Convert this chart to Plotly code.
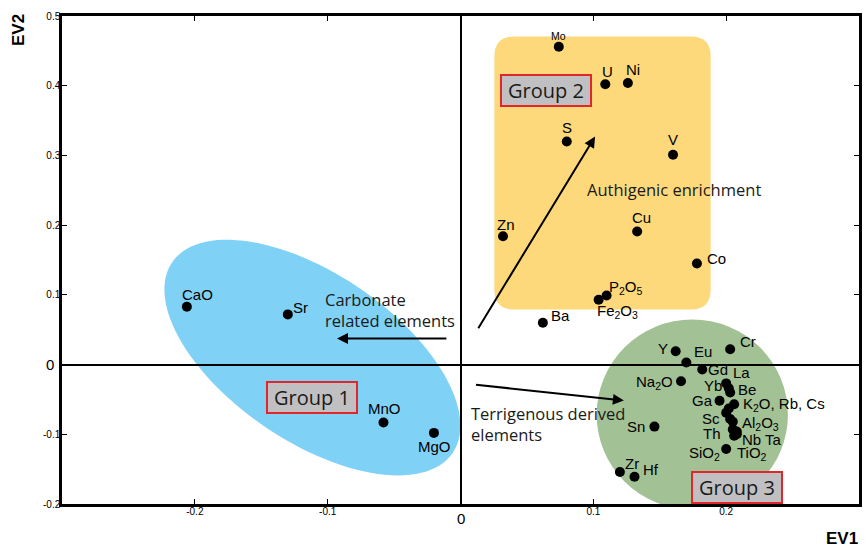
import numpy as np
import plotly.graph_objects as go

# ---------------- data ----------------
elements = ["Mo", "U", "Ni", "S", "V", "Zn", "Cu", "Co", "P2O5", "Fe2O3", "Ba",
            "CaO", "Sr", "MnO", "MgO",
            "Y", "Eu", "Cr", "Gd", "La", "Yb", "Be", "Na2O", "Ga", "K2O", "Rb", "Cs",
            "Sc", "Al2O3", "Th", "Nb", "Ta", "TiO2", "SiO2", "Sn", "Zr", "Hf"]
ev1 = [0.074, 0.109, 0.126, 0.080, 0.160, 0.032, 0.133, 0.178, 0.110, 0.104, 0.062,
       -0.206, -0.130, -0.058, -0.020,
       0.162, 0.170, 0.203, 0.182, 0.200, 0.202, 0.203, 0.166, 0.195, 0.206, 0.202, 0.200,
       0.203, 0.205, 0.205, 0.208, 0.206, 0.208, 0.200, 0.146, 0.120, 0.131]
ev2 = [0.456, 0.402, 0.404, 0.320, 0.301, 0.184, 0.191, 0.145, 0.099, 0.093, 0.060,
       0.083, 0.072, -0.083, -0.098,
       0.019, 0.003, 0.022, -0.007, -0.027, -0.034, -0.040, -0.024, -0.052, -0.057, -0.063, -0.069,
       -0.078, -0.082, -0.093, -0.096, -0.102, -0.100, -0.121, -0.089, -0.154, -0.161]
label_text = {
    "P2O5": "P<sub>2</sub>O<sub>5</sub>", "Fe2O3": "Fe<sub>2</sub>O<sub>3</sub>",
    "Na2O": "Na<sub>2</sub>O", "K2O": "K<sub>2</sub>O, Rb, Cs", "Rb": "", "Cs": "",
    "Al2O3": "Al<sub>2</sub>O<sub>3</sub>", "Nb": "Nb Ta", "Ta": "",
    "TiO2": "TiO<sub>2</sub>", "SiO2": "SiO<sub>2</sub>",
}
x_ticks = [-0.2, -0.1, 0.1, 0.2, 0.3]
y_ticks = [-0.2, -0.1, 0.1, 0.2, 0.3, 0.4, 0.5]
group_names = ["Group 1", "Group 2", "Group 3"]

# ---------------- label placement (pixels: dx, dy-up, anchor) ----------------
label_pos = {
    "Mo": (0, 11, "center"), "U": (2, 13, "center"), "Ni": (5, 13, "center"),
    "S": (0, 14, "center"), "V": (0, 15, "center"), "Zn": (3, 12, "center"),
    "Cu": (4, 14, "center"), "Co": (8, 5, "left"), "P2O5": (0, 8, "left"),
    "Fe2O3": (19, -12, "center"), "Ba": (6, 7, "left"), "CaO": (11, 12, "center"),
    "Sr": (3, 7, "left"), "MnO": (1, 14, "center"), "MgO": (1, -14, "center"),
    "Y": (-6, 3, "right"), "Eu": (6, 11, "left"), "Cr": (8, 8, "left"),
    "Gd": (4, 0, "left"), "La": (5, 11, "left"), "Yb": (-5, 3, "right"),
    "Be": (6, 3, "left"), "Na2O": (-6, -1, "right"), "Ga": (-5, 0, "right"),
    "K2O": (7, 0, "left"), "Sc": (-8, 0, "right"), "Al2O3": (7, -2, "left"),
    "Th": (-10, -4, "right"), "Nb": (3, -8, "left"), "TiO2": (-2, -19, "left"),
    "SiO2": (-4, -5, "right"), "Sn": (-7, 0, "right"), "Zr": (3, 8, "left"),
    "Hf": (6, 7, "left"),
}

X0, X1, Y0, Y1 = -0.3, 0.3, -0.2, 0.5
L, R, T, B = 62, 4, 16, 43
W, H = 866, 547
sx = (X1 - X0) / (W - L - R)
sy = (Y1 - Y0) / (H - T - B)

fig = go.Figure()

# ---------------- group shapes ----------------
cx, cy, a, b, phi = -0.1115, 0.010, 170, 84, np.deg2rad(34)
t = np.linspace(0, 2 * np.pi, 120)
ex = cx + sx * (a * np.cos(t) * np.cos(phi) - b * np.sin(t) * np.sin(phi))
ey = cy - sy * (a * np.cos(t) * np.sin(phi) + b * np.sin(t) * np.cos(phi))
path = "M " + " L ".join(f"{x:.5f},{y:.5f}" for x, y in zip(ex, ey)) + " Z"
fig.add_shape(type="path", path=path, fillcolor="#7fd1f6", line_width=0, layer="below")

rx0, rx1, ry0, ry1 = 0.0255, 0.1883, 0.079, 0.4705
crx, cry = 20 * sx, 20 * sy
rpath = (f"M {rx0+crx},{ry0} L {rx1-crx},{ry0} Q {rx1},{ry0} {rx1},{ry0+cry} "
         f"L {rx1},{ry1-cry} Q {rx1},{ry1} {rx1-crx},{ry1} L {rx0+crx},{ry1} "
         f"Q {rx0},{ry1} {rx0},{ry1-cry} L {rx0},{ry0+cry} Q {rx0},{ry0} {rx0+crx},{ry0} Z")
fig.add_shape(type="path", path=rpath, fillcolor="#fed97b", line_width=0, layer="below")

fig.add_shape(type="circle", x0=0.1025, x1=0.2465, y0=-0.208, y1=0.0646,
              fillcolor="#a2c194", line_width=0, layer="below")

# ---------------- points ----------------
fig.add_trace(go.Scatter(x=ev1, y=ev2, mode="markers",
                         marker=dict(color="black", size=10), hoverinfo="text",
                         text=elements, showlegend=False))

annotations = []
for name, x, y in zip(elements, ev1, ev2):
    txt = label_text.get(name, name)
    if not txt:
        continue
    dx, dy, anc = label_pos[name]
    annotations.append(dict(x=x, y=y, text=txt, showarrow=False, xshift=dx, yshift=dy,
                            xanchor=anc, yanchor="middle",
                            font=dict(family="Liberation Sans", size=10.5 if name == "Mo" else 15,
                                      color="black")))

group_xy = [(-0.1118, -0.047), (0.0645, 0.393), (0.2085, -0.177)]
for g, (gx, gy) in zip(group_names, group_xy):
    annotations.append(dict(x=gx, y=gy, text=g, showarrow=False, bgcolor="#c0c0c2",
                            bordercolor="#e3262b", borderwidth=2, width=86, height=27,
                            font=dict(family="Open Sans", size=20, color="#1a1a1a")))

txt_font = dict(family="Open Sans", size=16.5, color="#1a1a1a")
annotations += [
    dict(x=0.161, y=0.251, text="Authigenic enrichment", showarrow=False, font=txt_font),
    dict(x=-0.1035, y=0.079, text="Carbonate<br>related elements", showarrow=False,
         xanchor="left", align="left", font=txt_font),
    dict(x=0.0065, y=-0.085, text="Terrigenous derived<br>elements", showarrow=False,
         xanchor="left", align="left", font=txt_font),
]
for (hx, hy, tx, ty) in [(0.1013, 0.327, 0.0127, 0.050),
                         (-0.093, 0.0373, -0.0095, 0.0373),
                         (0.123, -0.0516, 0.0105, -0.0287)]:
    annotations.append(dict(x=hx, y=hy, ax=tx, ay=ty, axref="x", ayref="y", xref="x", yref="y",
                            text="", showarrow=True, arrowhead=2, arrowsize=1.1,
                            arrowwidth=2, arrowcolor="black"))

annotations += [
    dict(x=0, y=-0.2, xref="x", yref="y", yshift=-14, text="0", showarrow=False,
         font=dict(family="Liberation Sans", size=15, color="black")),
    dict(x=-0.3, y=0, xref="x", yref="y", xshift=-12, text="0", showarrow=False,
         font=dict(family="Liberation Sans", size=15, color="black")),
    dict(x=-0.3, y=0.5, xshift=-44, yshift=-14, text="<b>EV2</b>", textangle=-90,
         showarrow=False, font=dict(family="Liberation Sans", size=17, color="black")),
    dict(x=0.3, y=-0.2, xshift=-17, yshift=-34, text="<b>EV1</b>",
         showarrow=False, font=dict(family="Liberation Sans", size=17, color="black")),
]

fig.update_layout(
    width=W, height=H, autosize=False,
    margin=dict(l=L, r=R, t=T, b=B),
    plot_bgcolor="white", paper_bgcolor="white",
    annotations=annotations,
    xaxis=dict(range=[X0, X1], tickvals=x_ticks, ticktext=[f"{v:g}" for v in x_ticks],
               ticks="inside", ticklen=5, tickcolor="black", mirror="ticks",
               showline=True, linecolor="black", linewidth=2.5, showgrid=False,
               zeroline=True, zerolinecolor="black", zerolinewidth=2,
               ticklabelstandoff=-4,
               tickfont=dict(family="Liberation Sans", size=10, color="black")),
    yaxis=dict(range=[Y0, Y1], tickvals=y_ticks, ticktext=[f"{v:g}" for v in y_ticks],
               ticks="inside", ticklen=5, tickcolor="black", mirror="ticks",
               showline=True, linecolor="black", linewidth=2.5, showgrid=False,
               zeroline=True, zerolinecolor="black", zerolinewidth=2,
               ticklabelstandoff=-3,
               tickfont=dict(family="Liberation Sans", size=10, color="black")),
)

fig.write_html("out.html", config={"displayModeBar": False},
               post_script="document.body.style.margin='0';document.body.style.overflow='hidden';")
